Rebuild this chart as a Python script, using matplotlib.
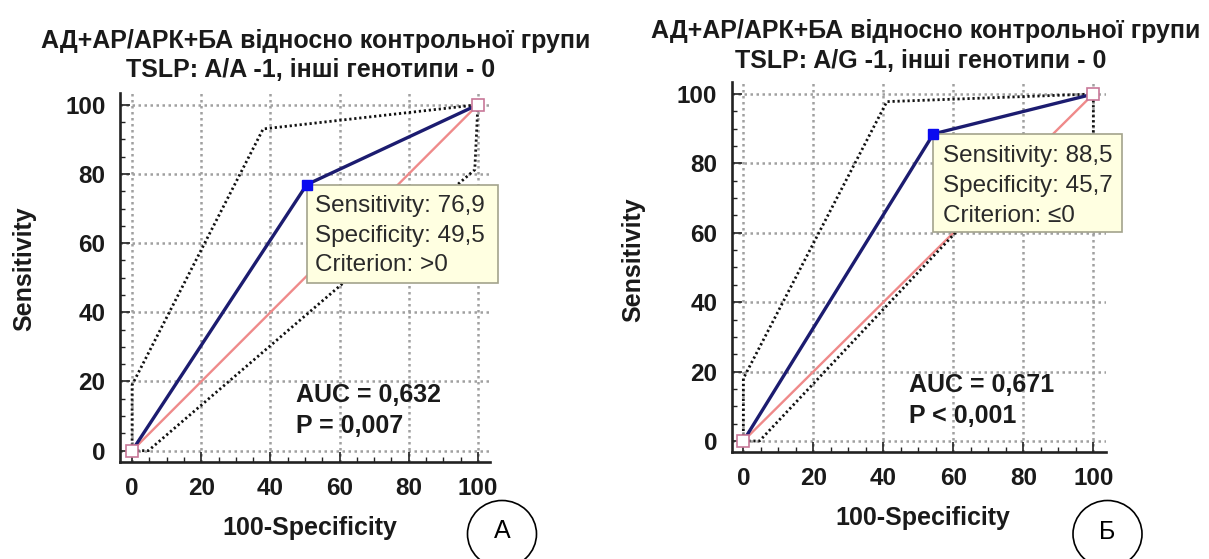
import matplotlib
matplotlib.use("Agg")
import matplotlib.pyplot as plt
from matplotlib.patches import Rectangle, Ellipse
from matplotlib.ticker import MultipleLocator

plt.rcParams['font.family'] = ['Liberation Sans', 'DejaVu Sans']

W, H = 1209, 559

# ---------------- data ----------------
titles_left = ["АД+АР/АРК+БА відносно контрольної групи", "TSLP: A/A -1, інші генотипи - 0"]
titles_right = ["АД+АР/АРК+БА відносно контрольної групи", "TSLP: A/G -1, інші генотипи - 0"]
tick_values = [0, 20, 40, 60, 80, 100]
xlabel = "100-Specificity"
ylabel = "Sensitivity"

left_roc_x = [0, 50.5, 100]
left_roc_y = [0, 76.9, 100]
left_upper_x = [0, 0, 37.9, 100]
left_upper_y = [0, 19, 93, 100]
left_lower_x = [0, 4.7, 99.1, 100]
left_lower_y = [0, 0, 81.2, 100]
left_info = ["Sensitivity: 76,9", "Specificity: 49,5", "Criterion: >0"]
left_stats = ["AUC = 0,632", "P = 0,007"]
left_letter = "А"

right_roc_x = [0, 54.3, 100]
right_roc_y = [0, 88.5, 100]
right_upper_x = [0, 0, 41, 100]
right_upper_y = [0, 18, 97.8, 100]
right_lower_x = [0, 4.6, 61.5, 100, 100]
right_lower_y = [0, 0, 61, 62, 100]
right_info = ["Sensitivity: 88,5", "Specificity: 45,7", "Criterion: \u22640"]
right_stats = ["AUC = 0,671", "P < 0,001"]
right_letter = "Б"

fig = plt.figure(figsize=(W / 100, H / 100), dpi=100)
fig.patch.set_facecolor('white')


def px(x, y):
    return x / W, 1 - y / H


def panel(rect, xlim, ylim, roc_x, roc_y, up_x, up_y, lo_x, lo_y,
          info, info_box, info_text_x, info_base, stats, stats_x, stats_base):
    ax = fig.add_axes(rect)
    ax.set_xlim(*xlim)
    ax.set_ylim(*ylim)
    for s in ['top', 'right']:
        ax.spines[s].set_visible(False)
    for s in ['left', 'bottom']:
        ax.spines[s].set_linewidth(1.9)
        ax.spines[s].set_color('#222222')
    ax.set_xticks(tick_values)
    ax.set_yticks(tick_values)
    ax.xaxis.set_minor_locator(MultipleLocator(5))
    ax.yaxis.set_minor_locator(MultipleLocator(5))
    ax.tick_params(which='major', direction='in', length=7, width=1.2, pad=10.5,
                   labelsize=17.5, color='#222222', labelcolor='#1a1a1a')
    ax.tick_params(which='minor', direction='in', length=3.5, width=1.0, color='#222222')
    for lab in ax.get_xticklabels() + ax.get_yticklabels():
        lab.set_fontweight('bold')
    for v in tick_values:
        ax.axhline(v, color='#a0a0a0', lw=1.8, ls=(0, (1, 1.4)), zorder=1)
        ax.axvline(v, color='#a0a0a0', lw=1.8, ls=(0, (1, 1.4)), zorder=1)
    ax.plot([0, 100], [0, 100], color='#ef8a8a', lw=1.7, zorder=2)
    ax.plot(up_x, up_y, color='#111111', lw=2.0, ls=(0, (0.8, 1.0)), zorder=3)
    ax.plot(lo_x, lo_y, color='#111111', lw=2.0, ls=(0, (0.8, 1.0)), zorder=3)
    ax.plot(roc_x, roc_y, color='#1c1c70', lw=2.4, zorder=4)
    ax.plot([roc_x[0], roc_x[-1]], [roc_y[0], roc_y[-1]], ls='none', marker='s',
            ms=8.5, mfc='white', mec='#c87898', mew=1.2, zorder=5, clip_on=False)
    bx, by, bw, bh = info_box
    ax.add_patch(Rectangle((bx, by), bw, bh, facecolor='#ffffe1', edgecolor='#a3a38c',
                           lw=1.2, zorder=6, clip_on=False))
    ax.plot([roc_x[1]], [roc_y[1]], ls='none', marker='s', ms=7, color='#0a0af0',
            zorder=7, clip_on=False)
    for t, yb in zip(info, info_base):
        ax.text(info_text_x, yb, t, fontsize=17.5, color='#2a2a2a', va='baseline',
                ha='left', zorder=8, clip_on=False)
    for t, yb in zip(stats, stats_base):
        ax.text(stats_x, yb, t, fontsize=18, fontweight='bold', color='#1a1a1a',
                va='baseline', ha='left', zorder=8)
    return ax


# left panel
panel([120 / W, 1 - 462.1 / H, 370 / W, 369.5 / H], (-3.5, 103.5), (-3.3, 103.5),
      left_roc_x, left_roc_y, left_upper_x, left_upper_y, left_lower_x, left_lower_y,
      left_info, (50.5, 48.6, 55.3, 28.3), 52.9, [69.1, 60.2, 52.0],
      left_stats, 47.4, [14.2, 5.2])

# right panel
panel([731.8 / W, 1 - 452.45 / H, 373.8 / W, 370.6 / H], (-3.3, 103.5), (-3.3, 103.5),
      right_roc_x, right_roc_y, right_upper_x, right_upper_y, right_lower_x, right_lower_y,
      right_info, (54.3, 60.2, 54.0, 28.3), 57.0, [80.4, 71.8, 63.1],
      right_stats, 47.3, [14.1, 5.1])

# titles
for (t, x, y) in [(titles_left[0], 316, 48.3), (titles_left[1], 311, 76.7),
                  (titles_right[0], 926, 38.3), (titles_right[1], 921, 68.3)]:
    fig.text(*px(x, y), t, fontsize=18, fontweight='bold', ha='center',
             va='baseline', color='#1a1a1a')

# axis labels
for (x, y) in [(310, 535), (923, 525)]:
    fig.text(*px(x, y), xlabel, fontsize=18, fontweight='bold', ha='center',
             va='baseline', color='#1a1a1a')
for (x, y) in [(24, 269), (633, 260)]:
    fig.text(*px(x, y), ylabel, fontsize=18, fontweight='bold', ha='center',
             va='center', rotation=90, color='#1a1a1a')

# circled letters
for (letter, cx, cy, by) in [(left_letter, 502, 534, 538.5), (right_letter, 1107.5, 534, 539)]:
    e = Ellipse(px(cx, cy), 69 / W, 67 / H, transform=fig.transFigure,
                facecolor='none', edgecolor='black', lw=1.2)
    fig.patches.append(e)
    fig.text(*px(cx, by), letter, fontsize=18, ha='center', va='baseline', color='black')

fig.savefig('out.png', dpi=100, facecolor='white')
